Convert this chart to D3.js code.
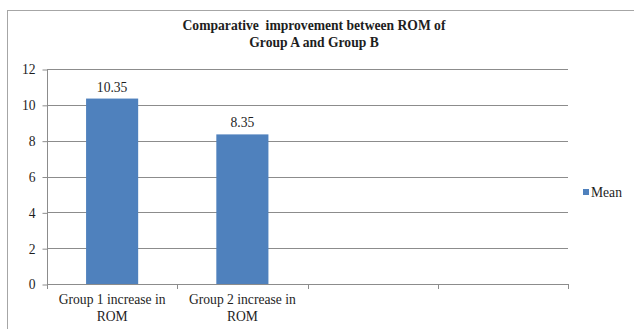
<!DOCTYPE html>
<html>
<head>
<meta charset="utf-8">
<script src="https://cdn.jsdelivr.net/npm/d3@7"></script>
<style>
  body { margin: 0; background: #fff; }
</style>
</head>
<body>
<svg id="chart" width="634" height="329"></svg>
<script>
// chart data
const categories = ['Group 1 increase in ROM', 'Group 2 increase in ROM', '', ' '];
const categoryLines = [['Group 1 increase in', 'ROM'], ['Group 2 increase in', 'ROM'], [], []];
const meanValues = [10.35, 8.35, null, null];
const yTicks = [0, 2, 4, 6, 8, 10, 12];
const titleLines = ['Comparative  improvement between ROM of', 'Group A and Group B'];
const seriesName = 'Mean';

const svg = d3.select('#chart');
const BAR = '#4f81bd';
const GRID = '#8c8c8c';
const INK = '#1e1e1e';
const FONT = '"Liberation Serif", monospace';
const FS = 13.6;

// outer chart frame
svg.append('rect')
  .attr('x', 7.5).attr('y', 10.5)
  .attr('width', 640).attr('height', 340)
  .attr('fill', '#fff')
  .attr('stroke', '#a6a6a6');

const plot = { left: 47, right: 568, top: 69, bottom: 284 };

const x = d3.scaleBand()
  .domain(categories)
  .range([plot.left, plot.right])
  .paddingInner(0.6).paddingOuter(0.3);

// full-width bands for tick marks and labels
const xb = d3.scaleBand().domain(categories).range([plot.left, plot.right]);

const y = d3.scaleLinear().domain([0, 12]).range([plot.bottom, plot.top]);

// title
svg.append('text')
  .attr('x', 314).attr('y', 30)
  .attr('text-anchor', 'middle')
  .attr('font-weight', 'bold')
  .attr('font-size', FS)
  .attr('fill', INK)
  .style('font-family', FONT)
  .style('white-space', 'pre')
  .selectAll('tspan')
  .data(titleLines)
  .join('tspan')
  .attr('x', 314)
  .attr('dy', (d, i) => i ? 17 : 0)
  .text(d => d);

// gridlines
svg.append('g')
  .selectAll('line')
  .data(yTicks.filter(t => t > 0))
  .join('line')
  .attr('x1', plot.left).attr('x2', plot.right)
  .attr('y1', d => Math.round(y(d)) + 0.5).attr('y2', d => Math.round(y(d)) + 0.5)
  .attr('stroke', GRID);

// y axis
const yAxis = svg.append('g')
  .attr('transform', `translate(${plot.left + 0.5},0.5)`)
  .call(d3.axisLeft(y).tickValues(yTicks).tickSize(5).tickPadding(7));
yAxis.select('.domain').attr('stroke', GRID).attr('d', `M0,${plot.top}V${plot.bottom}`);
yAxis.selectAll('.tick line').attr('stroke', GRID);
yAxis.selectAll('.tick text')
  .style('font-family', FONT)
  .attr('font-size', FS).attr('fill', INK);

const barData = categories.map((c, i) => ({ c, v: meanValues[i] })).filter(d => d.v != null);

// bars
svg.append('g')
  .selectAll('rect')
  .data(barData)
  .join('rect')
  .attr('x', d => x(d.c))
  .attr('width', x.bandwidth())
  .attr('y', d => y(d.v))
  .attr('height', d => y(0) - y(d.v))
  .attr('fill', BAR);

// data labels
svg.append('g')
  .selectAll('text')
  .data(barData)
  .join('text')
  .attr('x', d => x(d.c) + x.bandwidth() / 2)
  .attr('y', d => y(d.v) - 7)
  .attr('text-anchor', 'middle')
  .attr('font-size', FS)
  .attr('fill', INK)
  .style('font-family', FONT)
  .text(d => d.v);

// x axis
const xg = svg.append('g');
xg.append('line')
  .attr('x1', plot.left).attr('x2', plot.right)
  .attr('y1', plot.bottom + 0.5).attr('y2', plot.bottom + 0.5)
  .attr('stroke', GRID);
const bounds = categories.map(c => xb(c)).concat([plot.right]);
xg.selectAll('line.tk')
  .data(bounds)
  .join('line')
  .attr('class', 'tk')
  .attr('x1', d => Math.round(d) + 0.5).attr('x2', d => Math.round(d) + 0.5)
  .attr('y1', plot.bottom).attr('y2', plot.bottom + 5)
  .attr('stroke', GRID);

xg.selectAll('text.cat')
  .data(categories.map((c, i) => ({ c, lines: categoryLines[i] })))
  .join('text')
  .attr('class', 'cat')
  .attr('text-anchor', 'middle')
  .attr('font-size', FS)
  .attr('fill', INK)
  .style('font-family', FONT)
  .each(function (d) {
    const cx = xb(d.c) + xb.bandwidth() / 2;
    d3.select(this).selectAll('tspan')
      .data(d.lines)
      .join('tspan')
      .attr('x', cx)
      .attr('y', (t, i) => 304 + i * 17)
      .text(t => t);
  });

// legend
const lg = svg.append('g').attr('transform', 'translate(583,193)');
lg.append('rect').attr('x', 0).attr('y', -4).attr('width', 6).attr('height', 6).attr('fill', BAR);
lg.append('text').attr('x', 8).attr('y', 4).attr('font-size', FS).attr('fill', INK)
  .style('font-family', FONT).text(seriesName);
</script>
</body>
</html>
